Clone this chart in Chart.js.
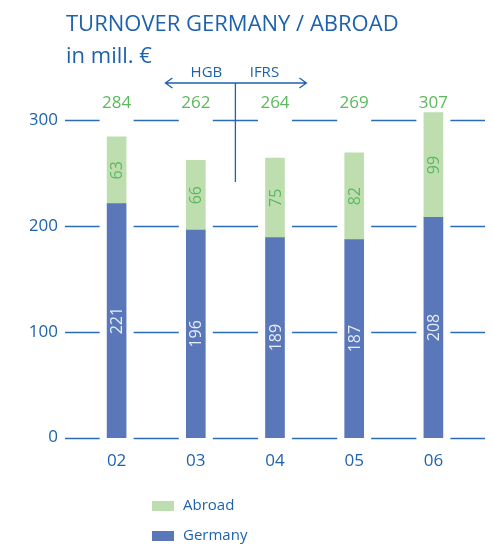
<!DOCTYPE html>
<html>
<head>
<meta charset="utf-8">
<script src="https://cdn.jsdelivr.net/npm/chart.js@4"></script>
<style>
  html, body { margin: 0; padding: 0; background: #fff; }
  #wrap { width: 493px; height: 546px; }
</style>
</head>
<body>
<div id="wrap"><canvas id="chart" width="493" height="546"></canvas></div>
<script>
// data
const categories = ['02', '03', '04', '05', '06'];
const germany = [221, 196, 189, 187, 208];
const abroad = [63, 66, 75, 82, 99];
const totals = [284, 262, 264, 269, 307];
const yTicks = [0, 100, 200, 300];
const regimes = ['HGB', 'IFRS'];
const titleLines = ['TURNOVER GERMANY / ABROAD', 'in mill. €'];

const BLUE = '#1e62ad';
const GREEN = '#5cb85c';
const FONT = '"Open Sans", "Noto Sans", sans-serif';

// gridlines, labels, annotation, title and legend
const decor = {
  id: 'decor',
  beforeDatasetsDraw(chart) {
    const ctx = chart.ctx;
    const y = chart.scales.y;
    const meta = chart.getDatasetMeta(0);
    ctx.save();
    ctx.strokeStyle = '#2a6db5';
    ctx.lineWidth = 1.3;
    yTicks.forEach(v => {
      const py = Math.round(y.getPixelForValue(v)) + 0.5;
      let start = 65;
      meta.data.forEach(bar => {
        ctx.beginPath();
        ctx.moveTo(start, py);
        ctx.lineTo(bar.x - 17, py);
        ctx.stroke();
        start = bar.x + 17;
      });
      ctx.beginPath();
      ctx.moveTo(start, py);
      ctx.lineTo(485, py);
      ctx.stroke();
    });
    ctx.restore();
  },
  afterDatasetsDraw(chart) {
    const ctx = chart.ctx;
    ctx.save();
    ctx.textAlign = 'center';
    ctx.textBaseline = 'middle';

    // values inside the bars, rotated
    chart.data.datasets.forEach((ds, di) => {
      const meta = chart.getDatasetMeta(di);
      meta.data.forEach((bar, i) => {
        const cy = (bar.y + bar.base) / 2;
        ctx.save();
        ctx.translate(bar.x + 1, cy);
        ctx.rotate(-Math.PI / 2);
        ctx.fillStyle = ds.labelColor;
        ctx.font = '16px ' + FONT;
        ctx.fillText(String(ds.data[i]), 0, 0);
        ctx.restore();
      });
    });

    // totals above
    const meta0 = chart.getDatasetMeta(0);
    ctx.fillStyle = GREEN;
    ctx.font = '17px ' + FONT;
    meta0.data.forEach((bar, i) => {
      ctx.fillText(String(totals[i]), bar.x, 103);
    });

    // HGB / IFRS divider
    const xs = chart.scales.x;
    const mx = (xs.getPixelForValue(1) + xs.getPixelForValue(2)) / 2;
    ctx.strokeStyle = BLUE;
    ctx.lineWidth = 1.3;
    ctx.beginPath();
    ctx.moveTo(mx, 83);
    ctx.lineTo(mx, 182);
    ctx.moveTo(mx - 70, 83);
    ctx.lineTo(mx + 71, 83);
    ctx.moveTo(mx - 63, 78);
    ctx.lineTo(mx - 70, 83);
    ctx.lineTo(mx - 63, 88);
    ctx.moveTo(mx + 64, 78);
    ctx.lineTo(mx + 71, 83);
    ctx.lineTo(mx + 64, 88);
    ctx.stroke();
    ctx.fillStyle = BLUE;
    ctx.font = '15px ' + FONT;
    ctx.fillText(regimes[0], mx - 29, 73);
    ctx.fillText(regimes[1], mx + 29, 73);

    // title
    ctx.textAlign = 'left';
    ctx.textBaseline = 'alphabetic';
    ctx.font = '22px ' + FONT;
    ctx.fillText(titleLines[0], 66, 31);
    ctx.fillText(titleLines[1], 66, 63);

    // legend, top item is the upper stack
    ctx.textBaseline = 'middle';
    ctx.font = '15px ' + FONT;
    const items = chart.data.datasets.slice().reverse();
    items.forEach((ds, k) => {
      const cy = 506 + k * 30;
      ctx.fillStyle = ds.backgroundColor;
      ctx.fillRect(152, cy - 5, 22, 10);
      ctx.fillStyle = BLUE;
      ctx.fillText(ds.label, 183, cy);
    });
    ctx.restore();
  }
};

new Chart(document.getElementById('chart'), {
  type: 'bar',
  data: {
    labels: categories,
    datasets: [
      { label: 'Germany', data: germany, backgroundColor: '#5a78b9', labelColor: '#e8eef8', barThickness: 19, clip: false },
      { label: 'Abroad', data: abroad, backgroundColor: '#bedeb0', labelColor: GREEN, barThickness: 19, clip: false }
    ]
  },
  options: {
    responsive: false,
    animation: false,
    layout: { padding: { top: 120, left: 30, right: 20, bottom: 62 } },
    plugins: {
      legend: { display: false },
      tooltip: { enabled: false }
    },
    scales: {
      x: {
        stacked: true,
        grid: { display: false, drawTicks: false },
        border: { display: false },
        ticks: { color: BLUE, font: { size: 17, family: FONT }, padding: 13 }
      },
      y: {
        stacked: true,
        min: 0,
        max: 300,
        grid: { display: false, drawTicks: false },
        border: { display: false },
        afterFit: s => { s.width = 47; },
        ticks: { stepSize: 100, color: BLUE, font: { size: 17, family: FONT }, padding: 19 }
      }
    }
  },
  plugins: [decor]
});
</script>
</body>
</html>
